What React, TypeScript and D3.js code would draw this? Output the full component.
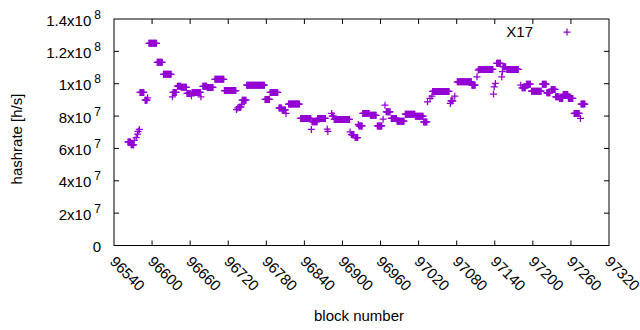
import * as d3 from "d3";
import { ReactElement } from "react";

// runs of consecutive blocks sharing one hashrate estimate (h/s)
const runStart = [
  96562, 96567, 96572, 96575, 96577, 96578, 96580, 96581, 96589, 96593, 96595, 96608, 96618, 96632, 96633, 96640,
  96646, 96655, 96662, 96663, 96677, 96680, 96687, 96699, 96714, 96733, 96735, 96737, 96741, 96742, 96749, 96778,
  96786, 96800, 96805, 96811, 96815, 96834, 96851, 96852, 96861, 96876, 96877, 96883, 96884, 96887, 96912, 96914,
  96920, 96925, 96926, 96932, 96944, 96955, 96964, 96967, 96969, 96977, 96986, 96999, 97015, 97028, 97034, 97038,
  97041, 97042, 97070, 97071, 97077, 97081, 97104, 97112, 97114, 97115, 97138, 97139, 97141, 97143, 97151, 97152,
  97153, 97159, 97181, 97183, 97190, 97198, 97215, 97222, 97229, 97236, 97242, 97248, 97256, 97265, 97275, 97276,
];
const runEnd = [
  96566, 96571, 96572, 96575, 96577, 96578, 96580, 96587, 96592, 96593, 96607, 96616, 96630, 96632, 96638, 96645,
  96654, 96660, 96662, 96676, 96677, 96686, 96696, 96713, 96732, 96733, 96735, 96740, 96741, 96748, 96777, 96785,
  96798, 96804, 96810, 96811, 96832, 96850, 96851, 96860, 96873, 96876, 96877, 96883, 96886, 96911, 96912, 96918,
  96924, 96925, 96931, 96942, 96953, 96962, 96964, 96967, 96975, 96985, 96997, 97014, 97027, 97033, 97034, 97038,
  97041, 97068, 97070, 97074, 97077, 97103, 97109, 97112, 97114, 97137, 97138, 97139, 97141, 97149, 97151, 97152,
  97157, 97177, 97181, 97188, 97196, 97213, 97221, 97227, 97235, 97241, 97247, 97255, 97263, 97273, 97275, 97282,
];
const runHashrate = [
  6.4e7, 6.22e7, 6.5e7, 6.67e7, 6.88e7, 7.06e7, 7.17e7, 9.46e7, 8.98e7, 9.13e7, 12.5e7, 11.32e7, 10.58e7, 9.19e7, 9.46e7, 9.85e7,
  9.78e7, 9.4e7, 9.25e7, 9.46e7, 9.19e7, 9.84e7, 9.77e7, 10.27e7, 9.58e7, 8.4e7, 8.5e7, 8.55e7, 8.7e7, 8.98e7, 9.91e7, 9.03e7,
  9.46e7, 8.5e7, 8.38e7, 8.16e7, 8.74e7, 7.85e7, 7.17e7, 7.65e7, 7.85e7, 7.2e7, 7.05e7, 8.16e7, 8.0e7, 7.79e7, 7.02e7, 6.86e7,
  6.67e7, 7.48e7, 7.39e7, 8.16e7, 8.05e7, 7.39e7, 7.81e7, 8.67e7, 8.26e7, 7.85e7, 7.68e7, 8.12e7, 7.99e7, 7.64e7, 8.88e7, 9.09e7,
  9.23e7, 9.52e7, 8.78e7, 8.94e7, 9.23e7, 10.12e7, 9.91e7, 10.43e7, 10.84e7, 10.88e7, 9.36e7, 9.81e7, 10.02e7, 11.26e7, 10.43e7, 10.74e7,
  11.05e7, 10.88e7, 9.91e7, 9.75e7, 9.97e7, 9.54e7, 9.97e7, 9.44e7, 9.65e7, 9.19e7, 9.09e7, 9.34e7, 9.09e7, 8.16e7, 7.85e7, 8.74e7,
];

const xTicks = [96540, 96600, 96660, 96720, 96780, 96840, 96900, 96960, 97020, 97080, 97140, 97200, 97260, 97320];
const yTicks = [0, 2e7, 4e7, 6e7, 8e7, 1e8, 1.2e8, 1.4e8];
const seriesName = "X17";

const width = 640;
const height = 330;
const left = 114;
const right = 609;
const top = 19;
const bottom = 245.5;
const purple = "#9400d3";
const font = "'Liberation Sans', Arial, sans-serif";

const points = runStart.flatMap((s, i) =>
  d3.range(s, runEnd[i] + 1).map((b) => ({ block: b, value: runHashrate[i] }))
);

// "1.4x10" + superscript "8"
const sci = (v: number) => {
  if (v === 0) return { base: "0", exp: "" };
  const e = Math.floor(Math.log10(v));
  const m = +(v / Math.pow(10, e)).toFixed(1);
  return { base: `${m}x10`, exp: `${e}` };
};

const plus = (x: number, y: number, r: number) => `M${x - r},${y}h${2 * r}M${x},${y - r}v${2 * r}`;

export default function App(): ReactElement {
  const x = d3.scaleLinear().domain([96540, 97320]).range([left, right]);
  const y = d3.scaleLinear().domain([0, 1.4e8]).range([bottom, top]);
  const tickLen = 5;

  return (
    <svg
      width={width}
      height={height}
      style={{ position: "absolute", left: 0, top: 0, background: "#fff" }}
      fontFamily={font}
      fontSize={15}
    >
      <rect width={width} height={height} fill="#fff" />

      {/* data */}
      <g stroke={purple} strokeWidth={1.25} fill="none">
        {points.map((p, i) => (
          <path key={i} d={plus(x(p.block), y(p.value), 3.5)} />
        ))}
      </g>

      {/* ticks, mirrored on top and right */}
      <g stroke="#000" strokeWidth={1}>
        {xTicks.slice(1, -1).map((t) => (
          <g key={t}>
            <line x1={x(t)} x2={x(t)} y1={bottom} y2={bottom - tickLen} />
            <line x1={x(t)} x2={x(t)} y1={top} y2={top + tickLen} />
          </g>
        ))}
        {yTicks.slice(1, -1).map((t) => (
          <g key={t}>
            <line x1={left} x2={left + tickLen} y1={y(t)} y2={y(t)} />
            <line x1={right} x2={right - tickLen} y1={y(t)} y2={y(t)} />
          </g>
        ))}
        <rect x={left} y={top} width={right - left} height={bottom - top} fill="none" />
      </g>

      {/* y tick labels */}
      {yTicks.map((t) => {
        const l = sci(t);
        return (
          <text key={t} x={101} y={y(t) + 6.5} textAnchor="end" fill="#000">
            {l.base}
            {l.exp && (
              <tspan dx={3} dy={-7} fontSize={12}>
                {l.exp}
              </tspan>
            )}
          </text>
        );
      })}

      {/* x tick labels, rotated */}
      {xTicks.map((t) => (
        <text key={t} transform={`translate(${x(t) - 5},${bottom + 17}) rotate(45)`} fill="#000">
          {t}
        </text>
      ))}

      <text transform={`translate(22,139) rotate(-90)`} textAnchor="middle" fill="#000">
        hashrate [h/s]
      </text>
      <text x={359} y={321} textAnchor="middle" fill="#000">
        block number
      </text>

      {/* legend */}
      <text x={533} y={37} textAnchor="end" fill="#000">
        {seriesName}
      </text>
      <path d={plus(567, 32, 3.5)} stroke={purple} strokeWidth={1.25} />
    </svg>
  );
}
